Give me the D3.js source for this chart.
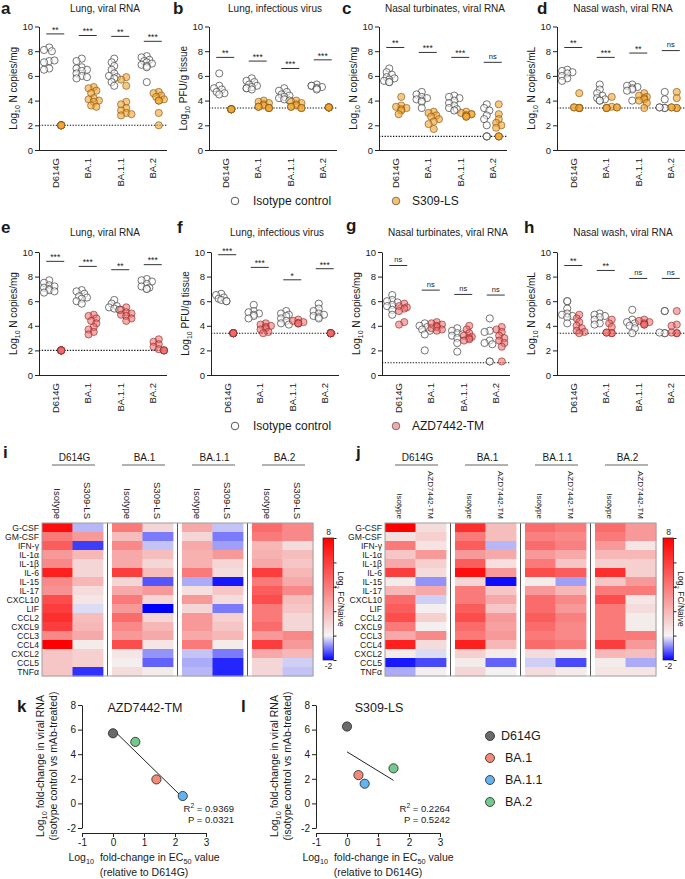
<!DOCTYPE html>
<html><head><meta charset="utf-8">
<script src="https://cdn.jsdelivr.net/npm/d3@7"></script>
<style>
body{margin:0;background:#fff;}
svg{font-family:"Liberation Sans",Arial,Helvetica,sans-serif;}
text{fill:#1a1a1a;}
</style></head><body>
<svg id="fig" width="685" height="879"></svg>
<script>
// ---------------- DATA ----------------
const variants = ["D614G","BA.1","BA.1.1","BA.2"];
const dotTitles = ["Lung, viral RNA","Lung, infectious virus","Nasal turbinates, viral RNA","Nasal wash, viral RNA",
                   "Lung, viral RNA","Lung, infectious virus","Nasal turbinates, viral RNA","Nasal wash, viral RNA"];
const dotYUnits = ["N copies/mg","PFU/g tissue","N copies/mg","N copies/mL","N copies/mg","PFU/g tissue","N copies/mg","N copies/mL"];
const dotLetters = ["a","b","c","d","e","f","g","h"];
const lods = [2, 3.4, 1.1, 3.4, 2, 3.4, 1.0, 3.4];
const yTicks = [0,2,4,6,8,10];

// a
const aIso = [[8.3,8.1,8.0,7.2,7.1,7.25,6.6,6.5],[7.4,7.2,6.7,6.6,6.5,6.4,6.2,6.0,5.9,5.8],[7.4,7.1,6.8,6.5,6.2,6.0,5.9,5.8,5.5,5.2],[7.6,7.5,7.3,7.2,7.1,7.0,6.9,6.8,6.7,5.5]];
const aMab = [[2,2,2,2,2,2,2,2],[5.1,5.0,4.8,4.6,4.2,4.1,4.0,3.9,3.6,3.5],[5.9,5.7,5.2,3.9,3.7,3.4,3.2,3.0,2.9,2.8],[4.7,4.6,4.4,4.3,4.1,4.0,4.0,3.0,2.0]];
const aSig = ["**","***","**","***"]; const aSigY = [9.4,9.27,9.2,8.8];
// b
const bIso = [[6.2,5.2,5.0,4.9,4.7,4.6,4.5],[5.8,5.6,5.5,5.3,5.2,5.1,5.0,5.0,4.9],[5.0,4.8,4.7,4.5,4.4,4.3,4.2,4.1,4.0],[5.3,5.2,5.2,5.1,5.0,5.0,4.9]];
const bMab = [[3.3,3.3,3.3,3.3,3.3,3.3,3.3],[4.0,3.9,3.8,3.7,3.6,3.5,3.5,3.4,3.4,3.4],[4.0,3.9,3.8,3.7,3.6,3.5,3.5,3.4,3.4],[3.45,3.45,3.45,3.45,3.45,3.45,3.45]];
const bSig = ["**","***","***","***"]; const bSigY = [7.5,7.2,6.6,7.3];
// c
const cIso = [[6.6,6.3,6.1,5.9,5.8,5.7,5.6,5.5,5.5],[4.7,4.5,4.3,4.2,4.1,4.0,3.9,3.4],[4.4,4.3,4.2,4.0,3.8,3.6,3.4,3.3,3.2],[3.7,3.4,3.2,2.8,2.5,2.0,1.1,1.1,1.1]];
const cMab = [[4.3,3.6,3.5,3.4,3.3,3.2,2.9],[3.1,3.0,2.8,2.7,2.5,2.3,2.1,1.7],[3.1,3.0,2.9,2.9,2.8,2.8,2.7,2.7],[3.7,2.9,2.5,2.2,2.0,1.8,1.1,1.1,1.1]];
const cSig = ["**","***","***","ns"]; const cSigY = [8.3,7.9,7.5,7.1];
// d
const dIso = [[6.5,6.4,6.3,6.2,6.0,5.8,5.6],[5.3,4.9,4.6,4.4,4.2,4.1,4.0,4.0],[5.3,5.2,5.1,5.0,4.9,4.8,4.0],[4.7,4.1,3.4,3.4,3.45,3.45]];
const dMab = [[4.6,3.4,3.4,3.4,3.45,3.45,3.4],[4.3,3.5,3.4,3.4,3.45,3.45,3.4],[4.6,4.4,4.3,4.2,4.1,4.0,3.8,3.4],[4.7,4.2,3.4,3.4,3.45,3.45]];
const dSig = ["**","***","**","ns"]; const dSigY = [8.3,7.5,7.85,8.05];
// e
const eIso = [[7.7,7.5,7.3,7.2,7.1,7.0,6.9,6.8,6.7],[6.9,6.8,6.6,6.4,6.3,6.2,6.0,5.8],[6.1,5.8,5.6,5.5,5.4,5.3,5.3],[7.8,7.7,7.6,7.4,7.2,7.1,7.0,7.0]];
const eMab = [[2,2,2,2,2,2,2,2],[4.9,4.8,4.6,4.4,4.2,3.9,3.7,3.5,3.3],[5.5,5.3,5.1,5.0,4.9,4.8,4.6,4.4],[2.9,2.7,2.5,2.3,2.1,2.0,2.0,2.0]];
const eSig = ["***","***","**","***"]; const eSigY = [9.24,8.83,8.56,8.97];
// f
const fIso = [[6.6,6.5,6.3,6.2,6.1,6.0,6.0],[5.7,5.2,5.1,5.0,4.9,4.8,4.6],[5.2,5.0,4.9,4.8,4.6,4.4,4.2,4.1],[5.8,5.4,5.2,5.0,4.9,4.8,4.7,4.6]];
const fMab = [[3.4,3.4,3.4,3.4,3.4,3.4,3.4,3.4],[4.2,4.1,4.0,3.9,3.8,3.7,3.5,3.4],[4.5,4.4,4.3,4.2,4.2,4.2],[3.4,3.4,3.4,3.4,3.4,3.4,3.4,3.4]];
const fSig = ["***","***","*","***"]; const fSigY = [9.78,8.75,7.74,8.64];
// g
const gIso = [[6.5,6.1,6.0,5.9,5.7,5.6,5.3,4.9],[4.2,4.0,3.9,3.7,3.6,3.3,2.0],[3.8,3.6,3.4,3.3,3.2,3.0,2.6,1.9],[4.6,3.6,3.5,2.8,2.6,2.5,1.1,1.1]];
const gMab = [[5.8,5.6,5.5,5.4,5.2,4.3,4.1],[4.3,4.2,4.1,4.0,3.9,3.8,3.7,3.6],[4.0,3.7,3.4,3.2,3.1,3.0,2.9,2.8],[3.9,3.7,3.5,3.2,3.0,2.8,2.6,2.3,1.1]];
const gSig = ["ns","ns","ns","ns"]; const gSigY = [8.9,6.9,6.55,6.5];
// h
const hIso = [[6.0,6.0,5.4,5.0,4.9,4.8,4.7,4.2],[5.0,4.9,4.8,4.7,4.5,4.2,4.1],[5.3,4.5,4.3,4.2,4.0,3.8,3.4],[5.2,5.2,3.4,3.4,3.45]];
const hMab = [[4.9,4.6,4.3,4.0,3.8,3.6,3.5,3.4],[4.5,4.2,3.9,3.4,3.4,3.45,3.45],[4.5,4.4,4.3,4.2,4.1,4.1],[5.2,4.1,4.0,3.4,3.4,3.45]];
const hSig = ["**","**","ns","ns"]; const hSigY = [8.9,8.5,7.85,7.85];

// heatmaps
const cytokines = ["G-CSF","GM-CSF","IFN-γ","IL-1α","IL-1β","IL-6","IL-15","IL-17","CXCL10","LIF","CCL2","CXCL9","CCL3","CCL4","CXCL2","CCL5","TNFα"];
// columns: D614G iso, D614G mAb, BA.1 iso, BA.1 mAb, BA.1.1 iso, BA.1.1 mAb, BA.2 iso, BA.2 mAb
const heatI = [
 [7.5,-0.5,4.0,1.0,2.5,-0.4,4.5,3.5],
 [4.0,3.0,1.8,-1.0,1.0,-1.0,4.0,3.5],
 [5.0,-1.5,3.5,-0.4,2.5,-0.7,2.0,0.8],
 [3.0,2.0,2.5,1.8,2.2,3.0,2.2,1.8],
 [3.5,1.0,2.5,1.0,2.2,1.0,2.5,1.5],
 [7.0,1.0,6.0,1.8,4.0,0.8,6.0,2.0],
 [3.5,2.0,1.0,-1.3,-0.6,-1.8,4.0,2.5],
 [3.2,0.8,2.5,3.0,0.7,1.5,5.0,3.5],
 [5.5,0.5,4.0,1.0,3.0,0.8,5.5,1.8],
 [6.0,-0.2,3.0,-2.0,1.0,-1.0,4.0,1.5],
 [6.5,1.8,4.5,1.0,3.0,1.2,4.0,1.0],
 [6.0,2.0,3.5,2.0,3.0,1.5,4.5,1.0],
 [3.5,2.5,3.0,2.5,2.5,2.0,3.0,3.5],
 [8.0,0.3,5.5,0.5,4.0,0.3,6.0,3.0],
 [1.5,1.2,0.5,-0.8,-0.4,-1.0,2.5,2.0],
 [1.5,1.2,0.2,-1.2,-0.6,-1.7,1.0,-0.3],
 [1.5,-1.6,0.8,0.3,-0.5,-1.7,1.0,-0.4]
];
const heatJ = [
 [8.0,0.8,6.5,1.8,4.5,4.0,4.5,3.0],
 [0.7,1.2,4.0,1.8,3.8,3.5,4.0,3.0],
 [4.0,0.6,5.0,-0.5,4.5,3.8,3.0,0.5],
 [1.5,3.0,3.0,2.5,3.0,2.5,2.0,2.0],
 [2.5,1.2,5.0,0.7,4.0,1.5,1.2,1.2],
 [6.0,0.8,7.5,3.0,5.5,5.0,6.5,1.2],
 [0.3,-0.8,1.0,-1.9,0.3,-0.7,1.5,3.0],
 [2.0,2.5,4.0,1.5,3.0,2.0,4.0,4.0],
 [4.5,-0.3,4.0,2.5,4.5,3.5,5.5,0.5],
 [5.0,0.2,5.0,1.5,4.5,3.0,4.0,0.8],
 [5.5,1.2,5.5,3.0,5.0,3.8,4.0,0.3],
 [4.0,0.2,4.5,2.8,4.5,3.5,4.0,0.3],
 [2.5,3.5,4.0,3.0,4.0,3.5,4.0,4.0],
 [7.0,0.8,7.0,2.0,4.5,4.0,6.0,3.0],
 [0.3,-0.2,1.2,0.3,0.8,0.3,2.0,1.8],
 [-1.8,-1.4,0.3,-1.2,-0.3,-1.4,0.3,-0.6],
 [-0.6,0.2,1.0,0.1,0.8,0.3,0.5,0.5]
];
const heatDomain = [-2, 8];

// regressions k, l
const kEc50 = [0, 1.4, 2.25, 0.72];
const kFold = [5.7, 1.95, 0.6, 5.0];
const lEc50 = [0, 0.37, 0.57, 1.5];
const lFold = [6.25, 2.3, 1.6, 2.85];
const kStats = ["0.9369","0.0321"];
const lStats = ["0.2264","0.5242"];

// ---------------- STYLE / LAYOUT ----------------
const svg = d3.select("#fig");
const FONT = "'Liberation Sans', Arial, Helvetica, sans-serif";
const varColors = ["#6b6b6b","#f28a77","#62b3ee","#72c98b"];
const treatStyle = {
  iso:  {fill:"#ffffff", fo:0.55, stroke:"#4a4a4a", so:0.85},
  s309: {fill:"#f4a636", fo:0.62, stroke:"#7a5418", so:0.7},
  azd:  {fill:"#ee6a6a", fo:0.55, stroke:"#8a2a2a", so:0.7}
};

function styleAxis(g, fs){
  g.attr("font-family", FONT).attr("font-size", fs);
  g.select(".domain").attr("stroke","#222").attr("stroke-width",1);
  g.selectAll(".tick line").attr("stroke","#222");
  g.selectAll(".tick text").attr("fill","#222");
}
function subText(sel, parts){
  // parts: [text, sub?]
  parts.forEach(p=>{
    const t = sel.append("tspan").text(p[0]);
    if(p[1]==="sub"){ t.attr("font-size","70%").attr("dy",3); }
    else if(p[1]==="sup"){ t.attr("font-size","70%").attr("dy",-4); }
    else if(p[1]==="back"){ t.attr("dy",-3); }
    else if(p[1]==="down"){ t.attr("dy",4); }
  });
}
function swarm(vals, cx, y){
  const offs=[0,-2.6,2.6,-5.2,5.2];
  const placed=[]; const byVal=new Map();
  return vals.map(v=>{
    const py=y(v);
    if(byVal.has(v)) return {x:byVal.get(v), y:py};
    let px=cx;
    for(const o of offs){
      const tx=cx+o;
      if(placed.every(q=>Math.hypot(q.x-tx,q.y-py)>=4.4)){px=tx;break;}
    }
    placed.push({x:px,y:py}); byVal.set(v,px);
    return {x:px,y:py};
  });
}

// ---------------- DOT PLOTS ----------------
const dotIso = [aIso,bIso,cIso,dIso,eIso,fIso,gIso,hIso];
const dotMab = [aMab,bMab,cMab,dMab,eMab,fMab,gMab,hMab];
const dotSig = [aSig,bSig,cSig,dSig,eSig,fSig,gSig,hSig];
const dotSigY = [aSigY,bSigY,cSigY,dSigY,eSigY,fSigY,gSigY,hSigY];
const colX = [39,209,379,557,39,211,382,557];
const letterPos = [[1,14],[173,14],[342,14],[537,14],[1,233],[177,233],[346,231],[524,233]];

dotTitles.forEach((title, idx)=>{
  const row = idx<4?0:1;
  const left = colX[idx];
  const top = row?252:26.5, bottom = row?375:150;
  const y = d3.scaleLinear().domain([0,10]).range([bottom, top]);
  const x = d3.scaleBand().domain(variants).range([left, left+130]);
  const g = svg.append("g");
  g.append("g").attr("transform",`translate(${left},0)`)
    .call(d3.axisLeft(y).tickValues(yTicks).tickSize(4).tickPadding(2).tickSizeOuter(0).tickFormat(d=>String(d)))
    .call(s=>styleAxis(s,9.5));
  const xa = g.append("g").attr("transform",`translate(0,${bottom})`)
    .call(d3.axisBottom(x).tickSize(0).tickSizeOuter(0))
    .call(s=>styleAxis(s,9.5));
  xa.select(".domain").attr("d",`M${left},0.5H${left+128}`);
  xa.selectAll(".tick text").attr("transform","rotate(-90)").attr("text-anchor","end")
    .attr("x",-8).attr("y",0).attr("dy","0.35em");
  // LOD
  g.append("line").attr("x1",left).attr("x2",left+128).attr("y1",y(lods[idx])).attr("y2",y(lods[idx]))
    .attr("stroke","#111").attr("stroke-width",1.1).attr("stroke-dasharray","1.3,1.5");
  // points
  const treat = row? "azd":"s309";
  variants.forEach((v,i)=>{
    const cx = x(v)+x.bandwidth()/2;
    [["iso",dotIso[idx][i],cx-6],[treat,dotMab[idx][i],cx+6]].forEach(([t,vals,c])=>{
      const st = treatStyle[t];
      g.selectAll(null).data(swarm(vals,c,y)).enter().append("circle")
        .attr("cx",d=>d.x).attr("cy",d=>d.y).attr("r",3.6)
        .attr("fill",st.fill).attr("fill-opacity",st.fo)
        .attr("stroke",st.stroke).attr("stroke-opacity",st.so).attr("stroke-width",0.9);
    });
    // significance
    const s = dotSig[idx][i]; const yy = y(dotSigY[idx][i]);
    g.append("line").attr("x1",cx-9).attr("x2",cx+9).attr("y1",yy).attr("y2",yy).attr("stroke","#333").attr("stroke-width",1);
    g.append("text").attr("x",cx).attr("y",yy-(s==="ns"?3.5:1.2)).attr("text-anchor","middle")
      .attr("font-size",s==="ns"?7.5:8.5).text(s);
  });
  // title
  g.append("text").attr("x",left+66).attr("y",row?236:12).attr("text-anchor","middle").attr("font-size",10).text(title);
  // y label
  const yl = g.append("text").attr("transform",`translate(${left-22},${(top+bottom)/2}) rotate(-90)`)
    .attr("text-anchor","middle").attr("font-size",10);
  subText(yl, [["Log"],["10","sub"],[" "+dotYUnits[idx],"back"]]);
  // letter
  g.append("text").attr("x",letterPos[idx][0]).attr("y",letterPos[idx][1]).attr("font-size",17).attr("font-weight","bold").text(dotLetters[idx]);
});

// legends for dot plots
const legendRows = [{y:201, lab:"S309-LS", st:"s309leg"},{y:426, lab:"AZD7442-TM", st:"azdleg"}];
const legFill = {s309leg:"#f8c06a", azdleg:"#f5a8a8"};
legendRows.forEach(r=>{
  svg.append("circle").attr("cx",235).attr("cy",r.y).attr("r",3.8).attr("fill","#fff").attr("stroke","#444").attr("stroke-width",0.9);
  svg.append("text").attr("x",253).attr("y",r.y).attr("dy","0.35em").attr("font-size",12).text("Isotype control");
  svg.append("circle").attr("cx",396).attr("cy",r.y).attr("r",3.8).attr("fill",legFill[r.st]).attr("stroke","#666").attr("stroke-width",0.9);
  svg.append("text").attr("x",412).attr("y",r.y).attr("dy","0.35em").attr("font-size",12).text(r.lab);
});

// ---------------- HEATMAPS ----------------
const heatColor = d3.scaleLinear().domain([heatDomain[0],0,heatDomain[1]]).range(["#0000ff","#f4f4f4","#ff0000"]).clamp(true);
function drawHeat(data, left, mabLabel, colFont, letter, letterX, cbX, id){
  const top=523, bottom=676;
  const gx = d3.scaleBand().domain(variants).range([left, left+271]).paddingInner(9/70);
  const yr = d3.scaleBand().domain(cytokines).range([top,bottom]);
  const cx = d3.scaleBand().domain([0,1]).range([0,gx.bandwidth()]);
  const g = svg.append("g");
  variants.forEach((v,gi)=>{
    cytokines.forEach((c,ri)=>{
      [0,1].forEach(ci=>{
        g.append("rect").attr("x",gx(v)+cx(ci)).attr("y",yr(c))
          .attr("width",cx.bandwidth()+0.4).attr("height",yr.bandwidth()+0.4)
          .attr("fill",heatColor(data[ri][gi*2+ci]));
      });
    });
    const gl = gx(v), gw = gx.bandwidth();
    g.append("text").attr("x",gl+gw/2+2).attr("y",461).attr("text-anchor","middle").attr("font-size",10).text(v);
    g.append("line").attr("x1",gl+10).attr("x2",gl+gw-8).attr("y1",465).attr("y2",465).attr("stroke","#999").attr("stroke-width",1.3);
    [0,1].forEach(ci=>{
      const xx = gl+cx(ci)+cx.bandwidth()/2;
      g.append("text").attr("transform",`translate(${xx},519) rotate(90)`).attr("text-anchor","end")
        .attr("dy","0.35em").attr("font-size",colFont).text(ci===0?"Isotype":mabLabel);
    });
    if(gi<3){
      const lx = gl+gw+4.5;
      g.append("line").attr("x1",lx).attr("x2",lx).attr("y1",top).attr("y2",bottom).attr("stroke","#555").attr("stroke-width",1);
    }
  });
  g.append("rect").attr("x",left).attr("y",top).attr("width",271).attr("height",bottom-top)
    .attr("fill","none").attr("stroke","#a0a0a0").attr("stroke-width",1);
  cytokines.forEach(c=>{
    g.append("text").attr("x",left-3).attr("y",yr(c)+yr.bandwidth()/2).attr("dy","0.35em")
      .attr("text-anchor","end").attr("font-size",8.6).text(c);
  });
  // colorbar
  const cbTop=538, cbBot=660;
  const cs = d3.scaleLinear().domain(heatDomain).range([cbBot,cbTop]);
  const grad = svg.append("defs").append("linearGradient").attr("id",id).attr("x1",0).attr("x2",0).attr("y1",0).attr("y2",1);
  d3.range(heatDomain[1],heatDomain[0]-0.01,-0.5).forEach(v=>{
    grad.append("stop").attr("offset",(cs(v)-cbTop)/(cbBot-cbTop)).attr("stop-color",heatColor(v));
  });
  g.append("rect").attr("x",cbX).attr("y",cbTop).attr("width",10.5).attr("height",cbBot-cbTop)
    .attr("fill",`url(#${id})`).attr("stroke","#222").attr("stroke-width",0.7);
  g.append("g").attr("transform",`translate(${cbX+10.5},0)`)
    .call(d3.axisRight(cs).tickValues([-2,0,2,4,6,8]).tickSize(3).tickFormat(""))
    .call(s=>{s.select(".domain").remove(); s.selectAll(".tick line").attr("stroke","#222");});
  g.append("text").attr("x",cbX+5.5).attr("y",cbTop-3).attr("text-anchor","middle").attr("font-size",8.5).text(String(heatDomain[1]));
  g.append("text").attr("x",cbX+5.5).attr("y",cbBot+8.5).attr("text-anchor","middle").attr("font-size",8.5).text(String(heatDomain[0]));
  const lab = g.append("text").attr("transform",`translate(${cbX+15},${(cbTop+cbBot)/2}) rotate(90)`)
    .attr("text-anchor","middle").attr("font-size",8.5);
  subText(lab, [["Log"],["2","sub"],[" FC/Naive","back"]]);
  g.append("text").attr("x",letterX).attr("y",458).attr("font-size",17).attr("font-weight","bold").text(letter);
}
drawHeat(heatI, 42, "S309-LS", 9.5, "i", 3, 323, "cbi");
drawHeat(heatJ, 385, "AZD7442-TM", 8, "j", 356, 663, "cbj");

// ---------------- REGRESSIONS ----------------
function drawScatter(xs, ys, left, title, stats, statsX, letter, letterX){
  const x = d3.scaleLinear().domain([-1,3]).range([left, left+124]);
  const y = d3.scaleLinear().domain([-2,8]).range([828,705]);
  const g = svg.append("g");
  g.append("g").attr("transform",`translate(${left},0)`)
    .call(d3.axisLeft(y).tickValues([-2,0,2,4,6,8]).tickSize(4).tickPadding(2).tickSizeOuter(0).tickFormat(d=>String(d)))
    .call(s=>styleAxis(s,10));
  g.append("g").attr("transform",`translate(0,833)`)
    .call(d3.axisBottom(x).tickValues([-1,0,1,2,3]).tickSize(4).tickPadding(2).tickSizeOuter(0).tickFormat(d=>String(d)))
    .call(s=>styleAxis(s,10));
  const mx=d3.mean(xs), my=d3.mean(ys);
  const b=d3.sum(xs.map((v,i)=>(v-mx)*(ys[i]-my)))/d3.sum(xs.map(v=>(v-mx)**2));
  const a=my-b*mx;
  const [x0,x1]=d3.extent(xs);
  g.append("line").attr("x1",x(x0)).attr("y1",y(a+b*x0)).attr("x2",x(x1)).attr("y2",y(a+b*x1))
    .attr("stroke","#222").attr("stroke-width",1);
  g.selectAll(null).data(xs).enter().append("circle")
    .attr("cx",d=>x(d)).attr("cy",(d,i)=>y(ys[i])).attr("r",4.6)
    .attr("fill",(d,i)=>varColors[i]).attr("stroke","#222").attr("stroke-width",0.8);
  g.append("text").attr("x",left+63).attr("y",712).attr("text-anchor","middle").attr("font-size",12.5).text(title);
  const s1 = g.append("text").attr("x",statsX).attr("y",812).attr("text-anchor","end").attr("font-size",9.5);
  subText(s1, [["R"],["2","sup"],[" = "+stats[0],"down"]]);
  g.append("text").attr("x",statsX).attr("y",823).attr("text-anchor","end").attr("font-size",9.5).text("P = "+stats[1]);
  const yl1 = g.append("text").attr("transform",`translate(${left-38},766) rotate(-90)`).attr("text-anchor","middle").attr("font-size",10.5);
  subText(yl1, [["Log"],["10","sub"],[" fold-change in viral RNA","back"]]);
  g.append("text").attr("transform",`translate(${left-25.5},766) rotate(-90)`).attr("text-anchor","middle").attr("font-size",10.5)
    .text("(isotype control vs mAb-treated)");
  const xl = g.append("text").attr("x",left+62).attr("y",861).attr("text-anchor","middle").attr("font-size",10.5);
  subText(xl, [["Log"],["10","sub"],["  fold-change in EC","back"],["50","sub"],[" value","back"]]);
  xl.attr("xml:space","preserve");
  g.append("text").attr("x",left+62).attr("y",876).attr("text-anchor","middle").attr("font-size",10.5).text("(relative to D614G)");
  g.append("text").attr("x",letterX).attr("y",712).attr("font-size",17).attr("font-weight","bold").text(letter);
}
drawScatter(kEc50, kFold, 82, "AZD7442-TM", kStats, 234, "k", 17);
drawScatter(lEc50, lFold, 316, "S309-LS", lStats, 450, "l", 241);

// legend k/l
const ly = d3.scalePoint().domain(variants).range([736,802]);
variants.forEach((v,i)=>{
  svg.append("circle").attr("cx",490).attr("cy",ly(v)).attr("r",4.5).attr("fill",varColors[i]).attr("stroke","#222").attr("stroke-width",0.8);
  svg.append("text").attr("x",i===0?501:505).attr("y",ly(v)).attr("dy","0.35em").attr("font-size",12.5).text(v);
});
</script>
</body></html>
